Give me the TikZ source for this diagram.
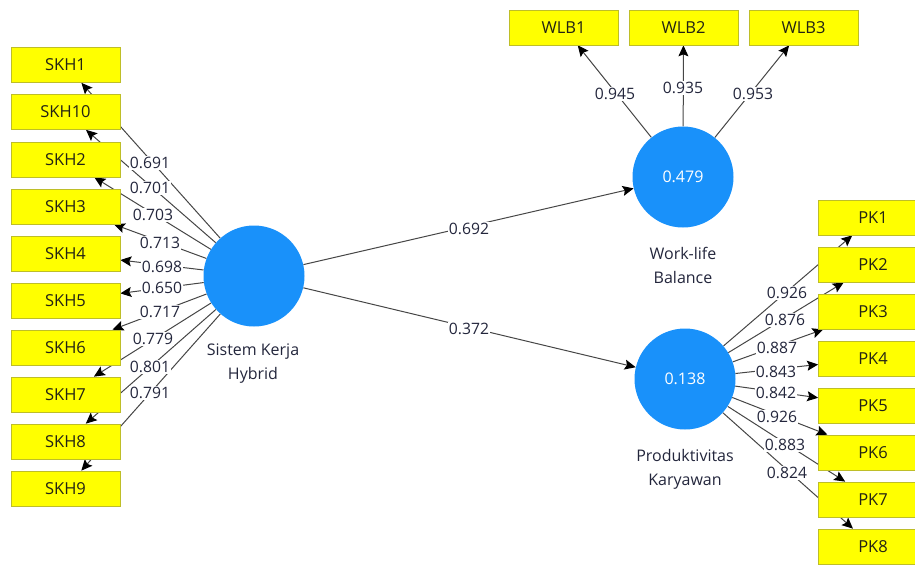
\documentclass[tikz,border=0pt]{standalone}
\usepackage{fontspec}
\setmainfont{Open Sans}
\usetikzlibrary{arrows.meta}
\pgfdeclarelayer{lines}
\pgfdeclarelayer{labels}
\pgfsetlayers{lines,labels,main}
\definecolor{boxfill}{RGB}{255,255,0}
\definecolor{boxline}{RGB}{190,190,40}
\definecolor{lvblue}{RGB}{25,145,250}
\definecolor{txt}{RGB}{35,38,60}
\definecolor{boxtxt}{RGB}{35,35,20}
\definecolor{wire}{RGB}{70,70,70}
\begin{document}
\begin{tikzpicture}[x=1pt,y=-1pt,
 ind/.style={draw=boxline, fill=boxfill, minimum width=109pt, minimum height=35pt, inner sep=0pt, font=\fontsize{16.5}{19}\selectfont, text=boxtxt, line width=0.7pt},
 lv/.style={circle, fill=lvblue, minimum size=101pt, inner sep=0pt, text=white, font=\fontsize{16}{19}\selectfont},
 lvname/.style={align=center, font=\fontsize{16}{24}\selectfont, text=txt},
 lbl/.style={fill=white, inner sep=1pt, font=\fontsize{15.7}{18}\selectfont, text=txt},
 wirestyle/.style={draw=wire, line width=1pt, -{Stealth[length=11pt,width=10pt,inset=2pt,color=black]}}]
\useasboundingbox (0,0) rectangle (915,565);
\clip (0,0) rectangle (915,565);
% latent variables
\node[lv] (skh) at (254,276) {};
\node[lv] (wlb) at (683,177) {0.479};
\node[lv] (pk) at (685,379) {0.138};
\node[lvname] (skhn) at (253,364) {Sistem Kerja\\Hybrid};
\node[lvname] (wlbn) at (683,265) {Work-life\\Balance};
\node[lvname] (pkn) at (685,469) {Produktivitas\\Karyawan};
% indicators
\foreach \n/\y [count=\i] in {SKH1/65,SKH10/112,SKH2/159.5,SKH3/206.5,SKH4/253.5,SKH5/300.5,SKH6/347.5,SKH7/394.5,SKH8/441.5,SKH9/488.5}
  \node[ind] (s\i) at (65.5,\y) {\n};
\foreach \n/\x [count=\i] in {WLB1/563.5,WLB2/683.5,WLB3/803.5}
  \node[ind] (w\i) at (\x,27.5) {\n};
\foreach \n/\y [count=\i] in {PK1/217.5,PK2/264.5,PK3/311.5,PK4/358.5,PK5/405.5,PK6/452.5,PK7/499.5,PK8/546.5}
  \node[ind] (p\i) at (873,\y) {\n};
% connectors
\begin{pgfonlayer}{lines}
\foreach \i in {1,...,10} \draw[wirestyle] (skh) -- (s\i);
\foreach \i in {1,...,3} \draw[wirestyle] (wlb) -- (w\i);
\foreach \i in {1,...,8} \draw[wirestyle] (pk) -- (p\i);
\draw[wirestyle] (skh) -- (wlb);
\draw[wirestyle] (skh) -- (pk);
\end{pgfonlayer}
% labels
\begin{pgfonlayer}{labels}
\foreach \v/\x/\y [count=\i] in {0.691/150/163,0.701/150/188,0.703/153/215,0.713/160/243,0.698/162/267,0.650/162/288,0.717/160/312,0.779/153/339,0.801/150/367,0.791/150/393}
  \node[lbl] (ls\i) at (\x,\y) {\v};
\foreach \v/\x/\y [count=\i] in {0.945/615/94,0.935/683/88,0.953/753/94}
  \node[lbl] (lw\i) at (\x,\y) {\v};
\foreach \v/\x/\y [count=\i] in {0.926/787/293,0.876/785/320,0.887/777/348,0.843/776/372,0.842/776/393,0.926/777/417,0.883/785/445,0.824/787/473}
  \node[lbl] (lp\i) at (\x,\y) {\v};
\node[lbl] (lwlb) at (469,229) {0.692};
\node[lbl] (lpk) at (469,329) {0.372};
\end{pgfonlayer}
\end{tikzpicture}
\end{document}
